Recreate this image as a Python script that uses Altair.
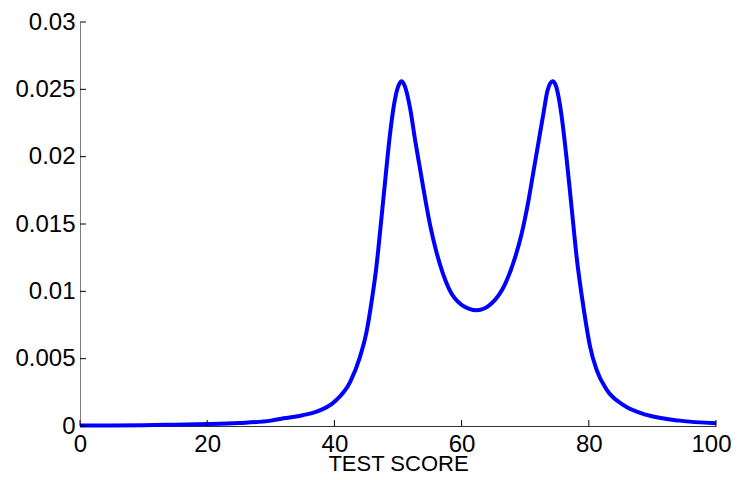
import altair as alt
import pandas as pd

score = [0, 5, 10, 15, 20, 25, 30, 32, 35, 37.2, 40, 42.5, 44, 45.1, 45.9, 46.6, 46.9,
         48, 48.7, 49.5, 50.1, 50.6, 51.1, 51.9, 52.7, 53.5, 54.3, 55.1, 56.0, 57.0, 58.0,
         60, 62.4, 64.7, 66.8, 68.4, 69.4, 70.5, 71.3, 72.1, 72.9, 73.5, 74.3, 74.8, 75.3,
         75.7, 76.5, 77.3, 78.1, 79.2, 80.2, 81.2, 82.8, 85.4, 89.1, 94.3, 100]
density = [0.00003, 0.00004, 0.00006, 0.0001, 0.00014, 0.00022, 0.0004, 0.00057, 0.0008,
           0.00106, 0.0018, 0.0033, 0.0051, 0.0071, 0.0094, 0.0118, 0.0131,
           0.0183, 0.0215, 0.0242, 0.0253, 0.0256, 0.0252, 0.0236, 0.0212, 0.0190, 0.0168,
           0.0148, 0.0130, 0.0114, 0.0102,
           0.0090, 0.0086, 0.0091, 0.0105, 0.0125, 0.0142, 0.0167, 0.0189, 0.0211, 0.0233,
           0.0249, 0.0256, 0.0253, 0.0243,
           0.0231, 0.0199, 0.0162, 0.0125, 0.0087, 0.0059, 0.0042, 0.0027, 0.00156,
           0.00082, 0.0004, 0.0002]
x_ticks = [0, 20, 40, 60, 80, 100]
y_ticks = [0, 0.005, 0.01, 0.015, 0.02, 0.025, 0.03]

df = pd.DataFrame({"score": score, "density": density})
xt = pd.DataFrame({"t": x_ticks})
yt = pd.DataFrame({"t": y_ticks})

FONT = "Liberation Sans"
xscale = alt.Scale(domain=[0, 100], nice=False, zero=False)
yscale = alt.Scale(domain=[0, 0.03], nice=False)

line = alt.Chart(df).mark_line(color="#0000ff", strokeWidth=4, interpolate="monotone").encode(
    x=alt.X("score:Q", scale=xscale, title="TEST SCORE",
            axis=alt.Axis(values=x_ticks, ticks=False, grid=False, domainColor="#333333",
                          labelFont=FONT, labelFontSize=24, labelColor="#000000", labelPadding=6,
                          labelOffset={"condition": {"test": "datum.value == 100", "value": -5},
                                       "value": 0},
                          titleFont=FONT, titleFontSize=22, titleFontWeight="normal",
                          titleColor="#000000", titlePadding=-3, labelFlush=False)),
    y=alt.Y("density:Q", scale=yscale, title=None,
            axis=alt.Axis(values=y_ticks, ticks=False, grid=False, domainColor="#808080",
                          format="~g", labelFont=FONT, labelFontSize=24, labelColor="#000000",
                          labelPadding=5, labelFlush=False)),
)

xticks = alt.Chart(xt).mark_rule(color="#000000", strokeWidth=1).encode(
    x=alt.X("t:Q", scale=xscale),
    y=alt.value(404), y2=alt.value(398),
)
yticks = alt.Chart(yt).mark_rule(color="#000000", strokeWidth=1).encode(
    y=alt.Y("t:Q", scale=yscale),
    x=alt.value(0), x2=alt.value(6),
)

chart = alt.layer(line, xticks, yticks).properties(
    width=636, height=404,
    background="white",
    autosize=alt.AutoSizeParams(type="none"),
    padding={"left": 72, "top": 14, "right": 16, "bottom": 46},
).configure_view(strokeWidth=0, stroke=None)

chart.save("out.html", embed_options={"renderer": "svg", "actions": False})
